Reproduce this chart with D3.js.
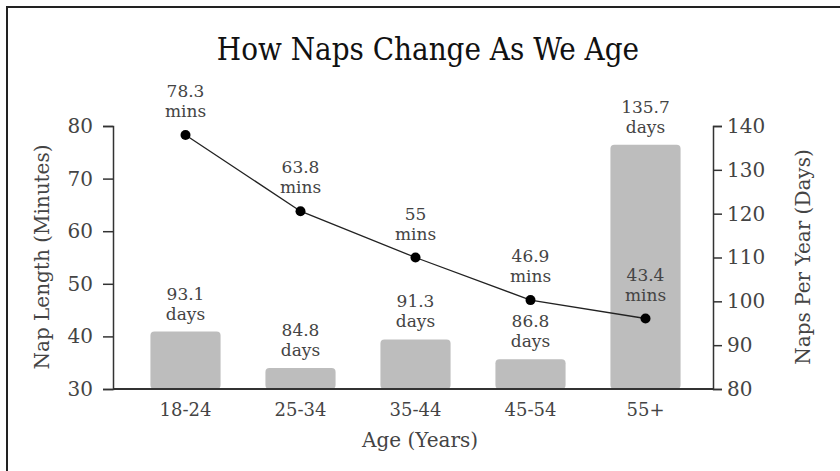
<!DOCTYPE html>
<html>
<head>
<meta charset="utf-8">
<script src="https://cdn.jsdelivr.net/npm/d3@7"></script>
<style>
  body { margin: 0; background: #fff; }
  svg { display: block; }
</style>
</head>
<body>
<div id="chart"></div>
<script>
// dữ liệu
const ageGroups = ["18-24", "25-34", "35-44", "45-54", "55+"];
const napMinutes = [78.3, 63.8, 55, 46.9, 43.4];
const napDays = [93.1, 84.8, 91.3, 86.8, 135.7];
const leftTicks = [30, 40, 50, 60, 70, 80];
const rightTicks = [80, 90, 100, 110, 120, 130, 140];

const width = 840, height = 471;
const serif = "'DejaVu Serif', 'Liberation Serif', serif";

const svg = d3.select("#chart").append("svg")
    .attr("width", width)
    .attr("height", height)
    .style("font-family", serif);

// khung viền (chỉ thấy cạnh trên và trái)
svg.append("rect")
    .attr("x", 7).attr("y", 7)
    .attr("width", 900).attr("height", 600)
    .attr("fill", "none")
    .attr("stroke", "#222")
    .attr("stroke-width", 2);

const x = d3.scaleBand()
    .domain(ageGroups)
    .range([128, 703])
    .paddingInner(0.39)
    .paddingOuter(0.195);

const yLeft = d3.scaleLinear().domain([30, 80]).range([389, 126]);
const yRight = d3.scaleLinear().domain([80, 140]).range([389, 126]);

// cột số ngày
svg.selectAll(".bar")
    .data(ageGroups)
    .join("rect")
    .attr("class", "bar")
    .attr("x", d => x(d))
    .attr("y", (d, i) => yRight(napDays[i]))
    .attr("width", x.bandwidth())
    .attr("height", (d, i) => yRight(80) - yRight(napDays[i]))
    .attr("rx", 4)
    .attr("fill", "#bdbdbd");

// nhãn cột
const barLabels = svg.selectAll(".bar-label")
    .data(ageGroups)
    .join("text")
    .attr("class", "bar-label")
    .attr("text-anchor", "middle")
    .style("font-size", "17px")
    .attr("fill", "#444");
barLabels.append("tspan")
    .attr("x", d => x(d) + x.bandwidth() / 2)
    .attr("y", (d, i) => yRight(napDays[i]) - 32)
    .text((d, i) => napDays[i]);
barLabels.append("tspan")
    .attr("x", d => x(d) + x.bandwidth() / 2)
    .attr("y", (d, i) => yRight(napDays[i]) - 12)
    .text("days");

// trục
const axisColor = "#333";
const gx = svg.append("g")
    .attr("transform", "translate(0,389)")
    .call(d3.axisBottom(x).tickSize(0).tickPadding(14));
gx.select(".domain").attr("d", "M113,0H713").attr("stroke", axisColor).attr("stroke-width", 2);

const gl = svg.append("g")
    .attr("transform", "translate(113,0)")
    .call(d3.axisLeft(yLeft).tickValues(leftTicks).tickSizeOuter(0).tickSize(10).tickPadding(10));
gl.select(".domain").attr("stroke", axisColor).attr("stroke-width", 1.5);

const gr = svg.append("g")
    .attr("transform", "translate(713,0)")
    .call(d3.axisRight(yRight).tickValues(rightTicks).tickSizeOuter(0).tickSize(9).tickPadding(5));
gr.select(".domain").attr("stroke", axisColor).attr("stroke-width", 1.5);

[gx, gl, gr].forEach(g => {
    g.selectAll(".tick line").attr("stroke", axisColor).attr("stroke-width", 1.5);
    g.selectAll(".tick text")
        .style("font-family", serif)
        .style("font-size", "20px")
        .attr("fill", "#444");
});
gx.selectAll(".tick text").style("font-size", "18px");

// đường số phút
const line = d3.line()
    .x(d => x(d.age) + x.bandwidth() / 2)
    .y(d => yLeft(d.min));
const points = ageGroups.map((a, i) => ({ age: a, min: napMinutes[i] }));

svg.append("path")
    .datum(points)
    .attr("d", line)
    .attr("fill", "none")
    .attr("stroke", "#222")
    .attr("stroke-width", 1.3);

svg.selectAll(".dot")
    .data(points)
    .join("circle")
    .attr("class", "dot")
    .attr("cx", d => x(d.age) + x.bandwidth() / 2)
    .attr("cy", d => yLeft(d.min))
    .attr("r", 5)
    .attr("fill", "#000");

const dotLabels = svg.selectAll(".dot-label")
    .data(points)
    .join("text")
    .attr("class", "dot-label")
    .attr("text-anchor", "middle")
    .style("font-size", "17px")
    .attr("fill", "#444");
dotLabels.append("tspan")
    .attr("x", d => x(d.age) + x.bandwidth() / 2)
    .attr("y", d => yLeft(d.min) - 38)
    .text(d => d.min);
dotLabels.append("tspan")
    .attr("x", d => x(d.age) + x.bandwidth() / 2)
    .attr("y", d => yLeft(d.min) - 18)
    .text("mins");

// tiêu đề
svg.append("text")
    .attr("x", 428)
    .attr("y", 60)
    .attr("text-anchor", "middle")
    .style("font-family", "'DejaVu Serif Condensed', 'Liberation Serif', serif")
    .style("font-size", "31px")
    .attr("fill", "#111")
    .text("How Naps Change As We Age");

// nhãn trục
svg.append("text")
    .attr("x", 420).attr("y", 447)
    .attr("text-anchor", "middle")
    .style("font-size", "20px")
    .attr("fill", "#444")
    .text("Age (Years)");

svg.append("text")
    .attr("transform", "translate(49,257) rotate(-90)")
    .attr("text-anchor", "middle")
    .style("font-size", "20px")
    .attr("fill", "#444")
    .text("Nap Length (Minutes)");

svg.append("text")
    .attr("transform", "translate(810,257) rotate(-90)")
    .attr("text-anchor", "middle")
    .style("font-size", "20px")
    .attr("fill", "#444")
    .text("Naps Per Year (Days)");
</script>
</body>
</html>
